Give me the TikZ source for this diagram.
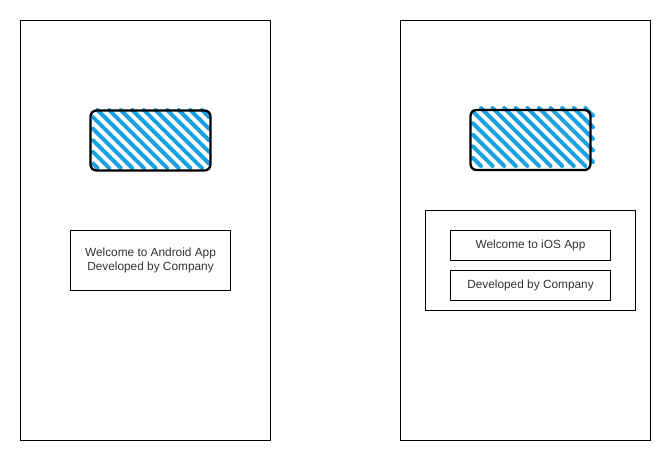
\documentclass[tikz,border=0pt]{standalone}
\usepackage{fontspec}
\setmainfont{Liberation Sans}
\definecolor{hatchblue}{RGB}{27,161,226}
\definecolor{labelgrey}{RGB}{51,51,51}
\tikzset{
    phone/.style={draw,line width=1pt,minimum width=250pt,minimum height=420pt,inner sep=0pt},
    panel/.style={draw,line width=1pt,inner sep=0pt,align=center,font=\fontsize{11.85}{15}\selectfont,text=labelgrey},
    logobox/.style={draw,line width=2.3pt,rounded corners=6pt,minimum width=120pt,minimum height=60pt,inner sep=0pt},
    hatch/.style={hatchblue,line width=4pt,line cap=round}
}
% #1,#2 top left, #3,#4 bottom right, #5 offset of the first stripe, #6 stripes
\newcommand{\logohatch}[6]{
    \foreach \k in {0,...,#6}{
        \pgfmathsetmacro{\c}{#5+11.6*\k}
        \pgfmathsetmacro{\xa}{max(\c+#2,#1)}
        \pgfmathsetmacro{\ya}{\xa-\c}
        \pgfmathsetmacro{\xb}{min(\c+#4,#3)}
        \pgfmathsetmacro{\yb}{\xb-\c}
        \draw[hatch] (\xa,\ya)--(\xb,\yb);
    }
}
\begin{document}
\begin{tikzpicture}[x=1pt,y=-1pt]
    \useasboundingbox (0,0) rectangle (671,461);
    \node[phone] (android) at (145.5,230.5) {};
    \node[phone] (ios) at (525.5,230.5) {};
    \logohatch{93}{110}{209}{168}{-70.5}{14}
    \node[logobox] (androidlogo) at (150.5,140.5) {};
    \logohatch{473}{108}{593}{166}{315}{14}
    \node[logobox] (ioslogo) at (530.5,140) {};
    \node[panel,minimum width=160pt,minimum height=60pt] (androidtext) at (150.5,260.5) {\raisebox{-0.7pt}{Welcome to Android App}\\Developed by Company};
    \node[draw,line width=1pt,minimum width=210pt,minimum height=100pt,inner sep=0pt] (iospanel) at (530.5,260.5) {};
    \node[panel,minimum width=160pt,minimum height=30pt] (ioswelcome) at (530.5,245.5) {Welcome to iOS App};
    \node[panel,minimum width=160pt,minimum height=30pt] (iosdeveloped) at (530.5,285.5) {Developed by Company};
\end{tikzpicture}
\end{document}
